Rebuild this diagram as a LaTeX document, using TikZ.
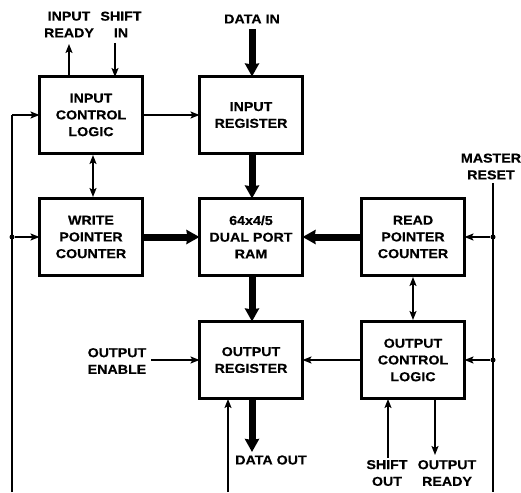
\documentclass[tikz,border=0pt]{standalone}
\usepackage{fontspec}
\setmainfont[BoldFeatures={FakeStretch=1.1,FakeBold=0.4}]{Liberation Sans}
\usetikzlibrary{arrows.meta}
\tikzset{
  x=1bp,y=-1bp,
  lbl/.style={inner sep=0pt,outer sep=0pt,align=center,font=\fontsize{13}{16.8}\selectfont\bfseries,text=black},
  blk/.style={lbl,draw=black,line width=3bp,fill=white,minimum width=103bp,minimum height=77bp},
  sig/.style={draw=black,line width=2bp,-{Stealth[length=9bp,width=7bp,inset=2bp]}},
  sigb/.style={draw=black,line width=2bp,{Stealth[length=9bp,width=7bp,inset=2bp]}-{Stealth[length=9bp,width=7bp,inset=2bp]},shorten <=1.5bp,shorten >=1.5bp},
  bus/.style={draw=black,line width=7bp,-{Stealth[length=13bp,width=14bp,inset=1bp]}},
  wire/.style={draw=black,line width=2bp},
  jn/.style={circle,fill=black,inner sep=0pt,minimum size=5bp}
}
\begin{document}
\begin{tikzpicture}
\useasboundingbox (0,0) rectangle (521,493);
\fill[white] (0,0) rectangle (521,493);
% blocks
\node[blk] (icl) at (91,115) {INPUT\\CONTROL\\LOGIC};
\node[blk] (ireg) at (251,115) {INPUT\\REGISTER};
\node[blk] (wpc) at (91,237) {WRITE\\POINTER\\COUNTER};
\node[blk] (ram) at (251,237) {64x4/5\\DUAL PORT\\RAM};
\node[blk] (rpc) at (413,237) {READ\\POINTER\\COUNTER};
\node[blk] (oreg) at (251,360) {OUTPUT\\REGISTER};
\node[blk] (ocl) at (413,360) {OUTPUT\\CONTROL\\LOGIC};
% outer labels
\node[lbl] (tir) at (69,24.5) {INPUT\\READY};
\node[lbl] (tsi) at (121,24.5) {SHIFT\\IN\hspace{12pt}};
\node[lbl] (tdi) at (252,19) {DATA IN};
\node[lbl] (tmr) at (491,166.5) {MASTER\\RESET};
\node[lbl] (toe) at (117,361) {OUTPUT\\ENABLE};
\node[lbl] (tdo) at (271,460) {DATA OUT};
\node[lbl] (tso) at (387,473) {SHIFT\\OUT};
\node[lbl] (tor) at (447,473) {OUTPUT\\READY};
% free ends
\coordinate (irEnd) at (69,44);
\coordinate (siBeg) at (115,43);
\coordinate (diBeg) at (252,29);
\coordinate (doEnd) at (252,452);
\coordinate (mrTop) at (493,183);
\coordinate (mrBot) at (493,492);
\coordinate (lbTop) at (12,115);
\coordinate (lbBot) at (12,492);
\coordinate (oeBeg) at (151,360);
\coordinate (upBot) at (228,492);
\coordinate (soBot) at (388,458);
\coordinate (orEnd) at (435,455);
\coordinate (ln) at (12,237);
\coordinate (rn) at (493,237);
\coordinate (rn2) at (493,360);
\coordinate (upX) at (228,399);
\coordinate (soX) at (388,399);
\coordinate (orX) at (435,398);
\coordinate (iX) at (69,77);
\coordinate (sX) at (115,77);
\coordinate (dblX) at (93,150);
% control
\draw[sig] (iX) -- (irEnd);
\draw[sig] (siBeg) -- (sX);
\draw[sig] (icl.east) -- (ireg.west);
\draw[sigb] (icl.south -| dblX) -- (wpc.north -| dblX);
\draw[sigb] (rpc.south) -- (ocl.north);
\draw[wire] (lbBot) -- (lbTop);
\draw[sig] (lbTop) -- (icl.west);
\node[jn] (lj) at (ln) {};
\draw[sig] (lj) -- (wpc.west |- ln);
\draw[wire] (mrTop) -- (mrBot);
\node[jn] (rj) at (rn) {};
\node[jn] (rj2) at (rn2) {};
\draw[sig] (rj) -- (rpc.east |- rn);
\draw[sig] (rj2) -- (ocl.east |- rn2);
\draw[sig] (oeBeg) -- (oreg.west);
\draw[sig] (upBot) -- (upX);
\draw[sig] (ocl.west) -- (oreg.east);
\draw[sig] (soBot) -- (soX);
\draw[sig] (orX) -- (orEnd);
% buses
\draw[bus] (diBeg) -- (ireg.north -| diBeg);
\draw[bus] (ireg.south -| diBeg) -- (ram.north -| diBeg);
\draw[bus] (ram.south -| diBeg) -- (oreg.north -| diBeg);
\draw[bus] (oreg.south -| diBeg) -- (doEnd);
\draw[bus] (wpc.east) -- (ram.west);
\draw[bus] (rpc.west) -- (ram.east);
\end{tikzpicture}
\end{document}
